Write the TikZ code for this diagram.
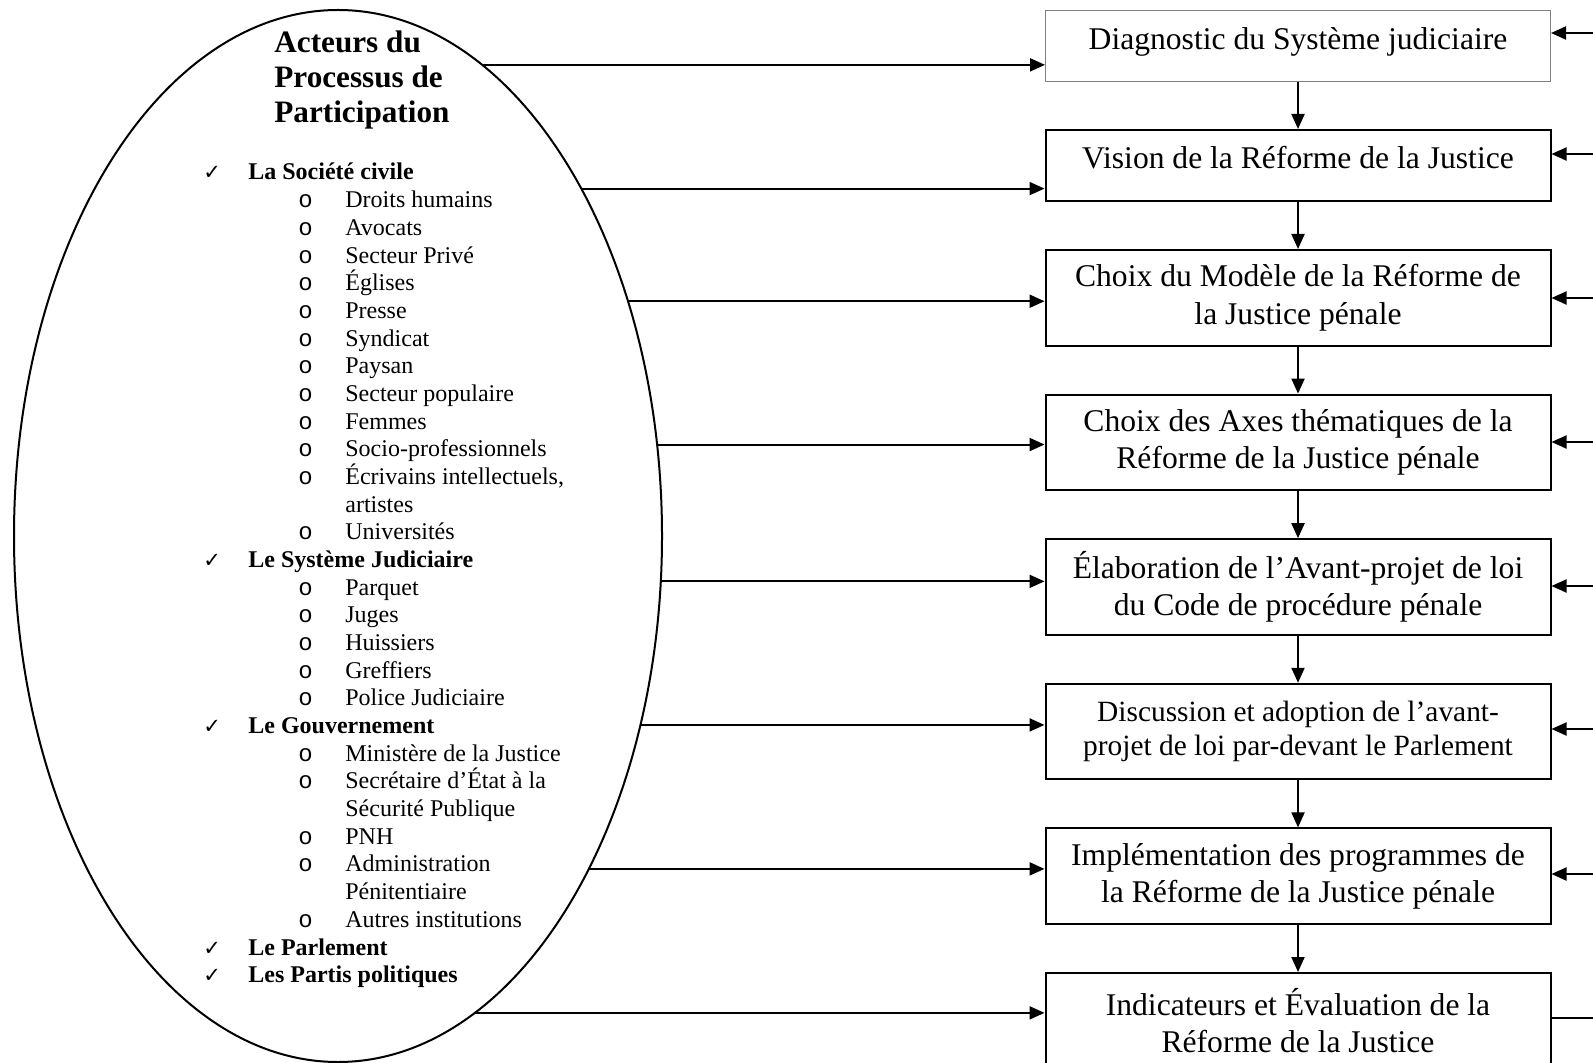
\documentclass[tikz,border=0pt]{standalone}
\usepackage{fontspec}
\setmainfont{Liberation Serif}
\newfontfamily\symb{DejaVu Sans}
\newfontfamily\mono{Liberation Mono}
\usetikzlibrary{positioning,shapes.geometric,arrows.meta}

\newcommand\groupe[1]{\makebox[22.5pt][l]{\symb\fontsize{10.5}{10}\selectfont ✓}\textbf{#1}}
\newcommand\membre[1]{\hspace*{47.5pt}\makebox[23.5pt][l]{\mono o}#1}
\newcommand\suite[1]{\hspace*{71pt}#1}

\begin{document}
\begin{tikzpicture}[x=0.5pt,y=-0.5pt,
	fleche/.style={line width=1pt,-{Triangle[length=7.5pt,width=6.5pt]}},
	trait/.style={line width=1pt},
	etape/.style={draw,line width=1pt,minimum width=252.5pt,minimum height=47.8pt,inner sep=0pt,align=center,font=\fontsize{15.8}{18.7}\selectfont},
	court/.style={minimum height=35.5pt,text height=19.5pt,text depth=16pt}]
	
	\useasboundingbox (0,0) rectangle (1593,1063);
	
	% The actors (multi-line nodes sit on their last baseline)
	\node[ellipse,draw,line width=1pt,minimum width=324pt,minimum height=526pt,inner sep=0pt,outer sep=0pt] (acteurs) at (338,536) {};
	\node[anchor=base west,align=left,inner sep=0pt,font=\bfseries\fontsize{15.6}{17.5}\selectfont] (titre) at (274,123) {Acteurs du\\Processus de\\Participation};
	\node[anchor=base west,align=left,inner sep=0pt,font=\fontsize{12}{13.84}\selectfont] (liste) at (203,982.7) {%
		\groupe{La Société civile}\\
		\membre{Droits humains}\\
		\membre{Avocats}\\
		\membre{Secteur Privé}\\
		\membre{Églises}\\
		\membre{Presse}\\
		\membre{Syndicat}\\
		\membre{Paysan}\\
		\membre{Secteur populaire}\\
		\membre{Femmes}\\
		\membre{Socio-professionnels}\\
		\membre{Écrivains intellectuels,}\\
		\suite{artistes}\\
		\membre{Universités}\\
		\groupe{Le Système Judiciaire}\\
		\membre{Parquet}\\
		\membre{Juges}\\
		\membre{Huissiers}\\
		\membre{Greffiers}\\
		\membre{Police Judiciaire}\\
		\groupe{Le Gouvernement}\\
		\membre{Ministère de la Justice}\\
		\membre{Secrétaire d’État à la}\\
		\suite{Sécurité Publique}\\
		\membre{PNH}\\
		\membre{Administration}\\
		\suite{Pénitentiaire}\\
		\membre{Autres institutions}\\
		\groupe{Le Parlement}\\
		\groupe{Les Partis politiques}};
	
	% The steps
	\node[etape,court,draw=gray,line width=0.5pt,anchor=north] (diag) at (1298,10) {Diagnostic du Système judiciaire};
	\node[etape,court,below=23.5pt of diag] (vision) {Vision de la Réforme de la Justice};
	\node[etape,below=23.5pt of vision] (modele) {Choix du Modèle de la Réforme de\\la Justice pénale};
	\node[etape,below=23.5pt of modele] (axes) {Choix des Axes thématiques de la\\Réforme de la Justice pénale};
	\node[etape,below=23.5pt of axes] (avant) {Élaboration de l’Avant-projet de loi\\du Code de procédure pénale};
	\node[etape,below=23.5pt of avant,font=\fontsize{14.7}{17.2}\selectfont] (discussion) {Discussion et adoption de l’avant-\\projet de loi par-devant le Parlement};
	\node[etape,below=23.5pt of discussion] (implem) {Implémentation des programmes de\\la Réforme de la Justice pénale};
	\node[etape,below=23.5pt of implem] (eval) {Indicateurs et Évaluation de la\\Réforme de la Justice};
	
	% Down the chain
	\foreach \a/\b in {diag/vision,vision/modele,modele/axes,axes/avant,avant/discussion,discussion/implem,implem/eval}
		\draw[fleche] (\a) -- (\b);
	
	% From the ellipse
	\foreach \b/\y in {diag/62,vision/183,modele/299,axes/442,avant/587,discussion/729,implem/874,eval/1018}
	{
		\pgfmathsetmacro\ang{atan2(536-\y,324*sqrt(1-((\y-536)/526)*((\y-536)/526)))}
		\draw[fleche] (acteurs.\ang) -- (\b.west |- acteurs.\ang);
	}
	
	% Feedback on the right
	\coordinate (retour) at (1625,1018);
	\draw[trait] (eval.east |- retour) -- (retour) -- ++(0,-985);
	\foreach \b/\y in {diag/33,vision/154,modele/298,axes/442,avant/586,discussion/729,implem/874}
	{
		\coordinate (r-\b) at (1625,\y);
		\draw[fleche] (r-\b) -- (\b.east |- r-\b);
	}
	
\end{tikzpicture}
\end{document}
